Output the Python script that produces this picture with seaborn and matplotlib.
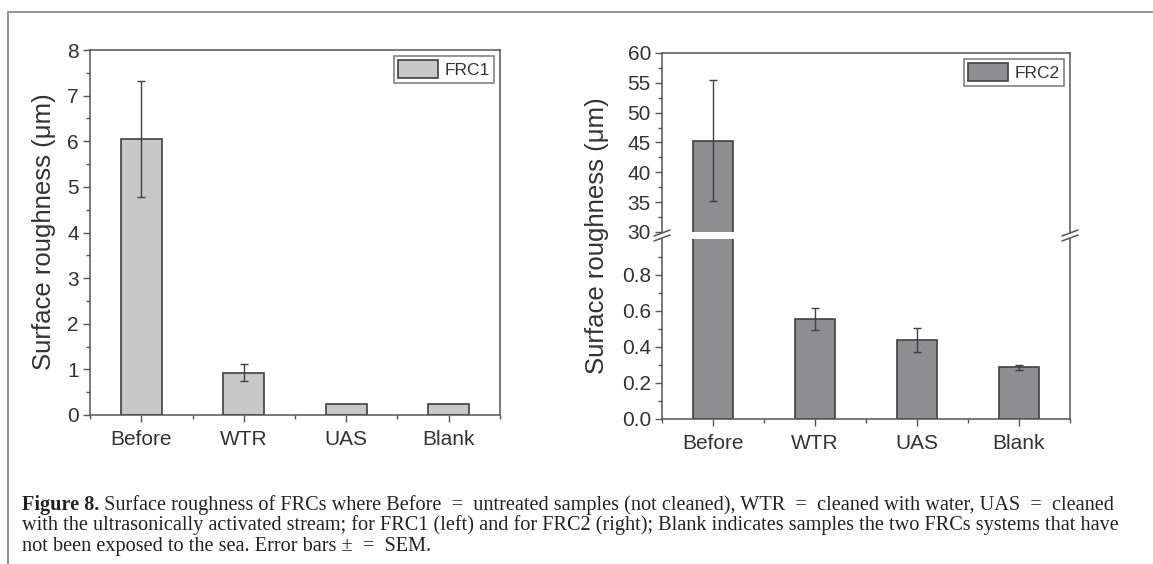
import matplotlib
matplotlib.use('Agg')
import matplotlib.pyplot as plt
from matplotlib.lines import Line2D
from matplotlib.patches import Patch
from matplotlib.ticker import MultipleLocator, FixedLocator, FormatStrFormatter
import pandas as pd
import seaborn as sns

categories = ['Before', 'WTR', 'UAS', 'Blank']
frc1_mean = [6.05, 0.93, 0.25, 0.25]
frc1_sem = [1.27, 0.195, 0.0, 0.0]
frc2_mean = [45.3, 0.555, 0.44, 0.288]
frc2_sem = [10.1, 0.06, 0.065, 0.013]

caption_bold = 'Figure 8.'
caption_lines = [
    ' Surface roughness of FRCs where Before  =  untreated samples (not cleaned), WTR  =  cleaned with water, UAS  =  cleaned',
    'with the ultrasonically activated stream; for FRC1 (left) and for FRC2 (right); Blank indicates samples the two FRCs systems that have',
    'not been exposed to the sea. Error bars \u00b1  =  SEM.',
]

sns.set_style('ticks')
plt.rcParams['font.family'] = ['Liberation Sans', 'DejaVu Sans']

TXT = '#333333'
SPINE = '#555555'
EDGE = '#404040'
W, H = 1153, 564

fig = plt.figure(figsize=(W / 100, H / 100), dpi=100)


def px_box(x0, y0, x1, y1):
    # pixel box (top-left origin) -> figure fraction rect
    return [x0 / W, 1 - y1 / H, (x1 - x0) / W, (y1 - y0) / H]


def style(ax):
    for s in ax.spines.values():
        s.set_color(SPINE)
        s.set_linewidth(1.1)
    ax.tick_params(axis='both', which='major', direction='out', length=5, width=1,
                   color=SPINE, labelcolor=TXT, labelsize=15, pad=3)
    ax.tick_params(axis='x', which='major', pad=6)
    ax.tick_params(axis='both', which='minor', direction='out', length=3, width=1, color=SPINE)
    ax.tick_params(right=False, top=False, which='both')
    ax.set_xlim(-0.5, 3.5)
    ax.set_xlabel('')
    ax.set_ylabel('')


def bars(ax, mean, sem, color, label):
    df = pd.DataFrame({'cat': categories, 'val': mean, 'series': label})
    sns.barplot(data=df, x='cat', y='val', hue='series', palette=[color], width=0.4,
                dodge=False, edgecolor=EDGE, linewidth=1.2, legend=False, ax=ax)
    xs = [i for i, e in enumerate(sem) if e > 0]
    ax.errorbar(xs, [mean[i] for i in xs], yerr=[sem[i] for i in xs], fmt='none',
                ecolor=EDGE, elinewidth=1, capsize=3, capthick=1)


def legend(ax, color, label):
    h = Patch(facecolor=color, edgecolor=EDGE, linewidth=1.2)
    lg = ax.legend([h], [label], loc='upper right', fancybox=False, frameon=True,
                   fontsize=12.5, handlelength=2.3, handleheight=1.2, borderpad=0.25,
                   handletextpad=0.35, borderaxespad=0.35, labelcolor=TXT)
    lg.get_frame().set_edgecolor(SPINE)
    lg.get_frame().set_linewidth(1.1)


def xminor(ax):
    ax.xaxis.set_minor_locator(FixedLocator([-0.5, 0.5, 1.5, 2.5, 3.5]))


# left panel: FRC1
c1 = '#c8c8c8'
ax1 = fig.add_axes(px_box(90, 50, 500, 415))
bars(ax1, frc1_mean, frc1_sem, c1, 'FRC1')
style(ax1)
ax1.set_ylim(0, 8)
ax1.yaxis.set_major_locator(MultipleLocator(1))
ax1.yaxis.set_minor_locator(MultipleLocator(0.5))
xminor(ax1)
legend(ax1, c1, 'FRC1')
fig.text(44 / W, 1 - 232 / H, 'Surface roughness (\u03bcm)', rotation=90, ha='center',
         va='center', fontsize=18.5, color=TXT)

# right panel: FRC2 with broken axis
c2 = '#8e8e90'
ax_hi = fig.add_axes(px_box(662, 53, 1070, 232))
ax_lo = fig.add_axes(px_box(662, 239, 1070, 419))
for ax in (ax_hi, ax_lo):
    bars(ax, frc2_mean, frc2_sem, c2, 'FRC2')
    style(ax)

ax_hi.set_ylim(30, 60)
ax_hi.yaxis.set_major_locator(MultipleLocator(5))
ax_hi.yaxis.set_minor_locator(MultipleLocator(2.5))
ax_hi.spines['bottom'].set_visible(False)
ax_hi.tick_params(axis='x', which='both', bottom=False, labelbottom=False)
legend(ax_hi, c2, 'FRC2')

ax_lo.set_ylim(0, 1.0)
ax_lo.yaxis.set_major_locator(FixedLocator([0.0, 0.2, 0.4, 0.6, 0.8]))
ax_lo.yaxis.set_minor_locator(FixedLocator([0.1, 0.3, 0.5, 0.7, 0.9]))
ax_lo.yaxis.set_major_formatter(FormatStrFormatter('%.1f'))
ax_lo.spines['top'].set_visible(False)
xminor(ax_lo)

fig.text(597 / W, 1 - 236 / H, 'Surface roughness (\u03bcm)', rotation=90, ha='center',
         va='center', fontsize=18.5, color=TXT)

# break marks on both spines
yc = 235.5
for xs in (662, 1070):
    for off in (-2.5, 2.5):
        fig.add_artist(Line2D([(xs - 8) / W, (xs + 8) / W],
                              [1 - (yc + off + 3) / H, 1 - (yc + off - 3) / H],
                              color=SPINE, lw=1.1))

# outer frame
fig.add_artist(Line2D([8 / W, 1], [1 - 12 / H, 1 - 12 / H], color='#8a8a8a', lw=1.3))
fig.add_artist(Line2D([8 / W, 8 / W], [1 - 12 / H, 0], color='#8a8a8a', lw=1.3))

# caption
serif = ['Liberation Serif', 'DejaVu Serif']
cap_fs = 14.6
renderer = fig.canvas.get_renderer()
tb = fig.text(22 / W, 1 - 505 / H, caption_bold, fontsize=cap_fs, fontweight='bold',
              family=serif, va='center', ha='left', color='#222222')
bw = tb.get_window_extent(renderer).width
for i, line in enumerate(caption_lines):
    x0 = 22 + (bw if i == 0 else 0)
    fig.text(x0 / W, 1 - (505 + 20.5 * i) / H, line, fontsize=cap_fs, family=serif,
             va='center', ha='left', color='#222222')

fig.savefig('out.png', dpi=100)
